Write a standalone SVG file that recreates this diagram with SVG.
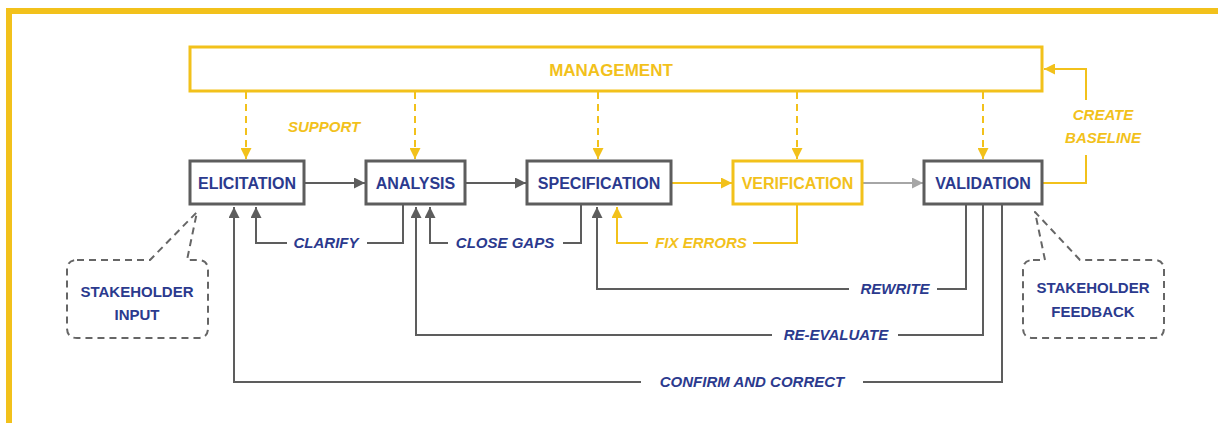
<svg xmlns="http://www.w3.org/2000/svg" width="1218" height="423" viewBox="0 0 1218 423">
<style>
.node{fill:#fff;stroke:#5d5d5d;stroke-width:3}
.ynode{fill:#fff;stroke:#F2C11B;stroke-width:3}
.nt{font-family:"Liberation Sans",Arial,sans-serif;font-weight:bold;font-size:16px;fill:#2B3A8E;text-anchor:middle}
.lab{font-family:"Liberation Sans",Arial,sans-serif;font-weight:bold;font-style:italic;font-size:15px;fill:#2B3A8E;text-anchor:middle}
.ct{font-family:"Liberation Sans",Arial,sans-serif;font-weight:bold;font-size:15px;fill:#2B3A8E;text-anchor:middle}
.yt{fill:#F2C11B}
.g{fill:none;stroke:#5d5d5d;stroke-width:2}
.y{fill:none;stroke:#F2C11B;stroke-width:2}
.lg{fill:none;stroke:#a6a6a6;stroke-width:2}
.dash{fill:none;stroke:#F2C11B;stroke-width:2;stroke-dasharray:7 5}
.call{fill:#fff;stroke:#666;stroke-width:2;stroke-dasharray:7 5;stroke-linejoin:round}
</style>
<defs>
<marker id="ag" viewBox="0 0 10 10" refX="10" refY="5" markerWidth="11" markerHeight="11" orient="auto" markerUnits="userSpaceOnUse"><path d="M0,0 L10,5 L0,10 z" fill="#5d5d5d"/></marker>
<marker id="ay" viewBox="0 0 10 10" refX="10" refY="5" markerWidth="11" markerHeight="11" orient="auto" markerUnits="userSpaceOnUse"><path d="M0,0 L10,5 L0,10 z" fill="#F2C11B"/></marker>
<marker id="al" viewBox="0 0 10 10" refX="10" refY="5" markerWidth="11" markerHeight="11" orient="auto" markerUnits="userSpaceOnUse"><path d="M0,0 L10,5 L0,10 z" fill="#a6a6a6"/></marker>
</defs>
<rect x="9" y="11" width="1220" height="420" fill="none" stroke="#F2C11B" stroke-width="6"/>

<g id="connectors">
<line class="dash" x1="246" y1="92" x2="246" y2="159" marker-end="url(#ay)"/>
<line class="dash" x1="415" y1="92" x2="415" y2="159" marker-end="url(#ay)"/>
<line class="dash" x1="598" y1="92" x2="598" y2="159" marker-end="url(#ay)"/>
<line class="dash" x1="797" y1="92" x2="797" y2="159" marker-end="url(#ay)"/>
<line class="dash" x1="983" y1="92" x2="983" y2="159" marker-end="url(#ay)"/>
<text class="lab yt" x="324" y="132">SUPPORT</text>

<line class="g" x1="305" y1="183" x2="365" y2="183" marker-end="url(#ag)"/>
<line class="g" x1="466" y1="183" x2="526" y2="183" marker-end="url(#ag)"/>
<line class="y" x1="672" y1="183" x2="732" y2="183" marker-end="url(#ay)"/>
<line class="lg" x1="863" y1="183" x2="923" y2="183" marker-end="url(#al)"/>

<polyline class="y" points="1043,183 1086,183 1086,155"/>
<polyline class="y" points="1086,100 1086,69 1044,69" marker-end="url(#ay)"/>
<text class="lab yt" x="1103" y="120">CREATE</text>
<text class="lab yt" x="1103" y="143">BASELINE</text>

<polyline class="g" points="403,205 403,243 367,243"/>
<polyline class="g" points="287,243 256,243 256,207" marker-end="url(#ag)"/>
<text class="lab" x="326" y="248">CLARIFY</text>

<polyline class="g" points="581,205 581,243 563,243"/>
<polyline class="g" points="448,243 430,243 430,207" marker-end="url(#ag)"/>
<text class="lab" x="505" y="248">CLOSE GAPS</text>

<polyline class="y" points="797,205 797,243 753,243"/>
<polyline class="y" points="648,243 617,243 617,207" marker-end="url(#ay)"/>
<text class="lab yt" x="701" y="248">FIX ERRORS</text>

<polyline class="g" points="966,205 966,289 937,289"/>
<polyline class="g" points="849,289 597,289 597,207" marker-end="url(#ag)"/>
<text class="lab" x="895" y="294">REWRITE</text>

<polyline class="g" points="983,205 983,335 898,335"/>
<polyline class="g" points="772,335 416,335 416,207" marker-end="url(#ag)"/>
<text class="lab" x="836" y="340">RE-EVALUATE</text>

<polyline class="g" points="1002,205 1002,382 863,382"/>
<polyline class="g" points="641,382 234,382 234,207" marker-end="url(#ag)"/>
<text class="lab" x="752" y="387">CONFIRM AND CORRECT</text>
</g>

<g id="management">
<rect x="190" y="47" width="852" height="44" fill="#fff" stroke="#F2C11B" stroke-width="3"/>
<text class="nt yt" x="611" y="76" style="font-size:17px">MANAGEMENT</text>
</g>
<g id="elicitation">
<rect class="node" x="190" y="161" width="114" height="43"/>
<text class="nt" x="247" y="189">ELICITATION</text>
</g>
<g id="analysis">
<rect class="node" x="366" y="161" width="99" height="43"/>
<text class="nt" x="415.5" y="189">ANALYSIS</text>
</g>
<g id="specification">
<rect class="node" x="527" y="161" width="144" height="43"/>
<text class="nt" x="599" y="189">SPECIFICATION</text>
</g>
<g id="verification">
<rect class="ynode" x="733" y="161" width="129" height="43"/>
<text class="nt yt" x="797.5" y="189">VERIFICATION</text>
</g>
<g id="validation">
<rect class="node" x="924" y="161" width="118" height="43"/>
<text class="nt" x="983" y="189">VALIDATION</text>
</g>
<g id="stakeholder-input">
<path class="call" d="M77,260 L150,260 L197,212 L187,260 L198,260 Q208,260 208,270 L208,328 Q208,338 198,338 L77,338 Q67,338 67,328 L67,270 Q67,260 77,260 Z"/>
<text class="ct" x="137" y="297">STAKEHOLDER</text>
<text class="ct" x="137" y="320">INPUT</text>
</g>
<g id="stakeholder-feedback">
<path class="call" d="M1033,260 L1045,260 L1035,212 L1080,260 L1154,260 Q1164,260 1164,270 L1164,328 Q1164,338 1154,338 L1033,338 Q1023,338 1023,328 L1023,270 Q1023,260 1033,260 Z"/>
<text class="ct" x="1093" y="293">STAKEHOLDER</text>
<text class="ct" x="1093" y="317">FEEDBACK</text>
</g>
</svg>
